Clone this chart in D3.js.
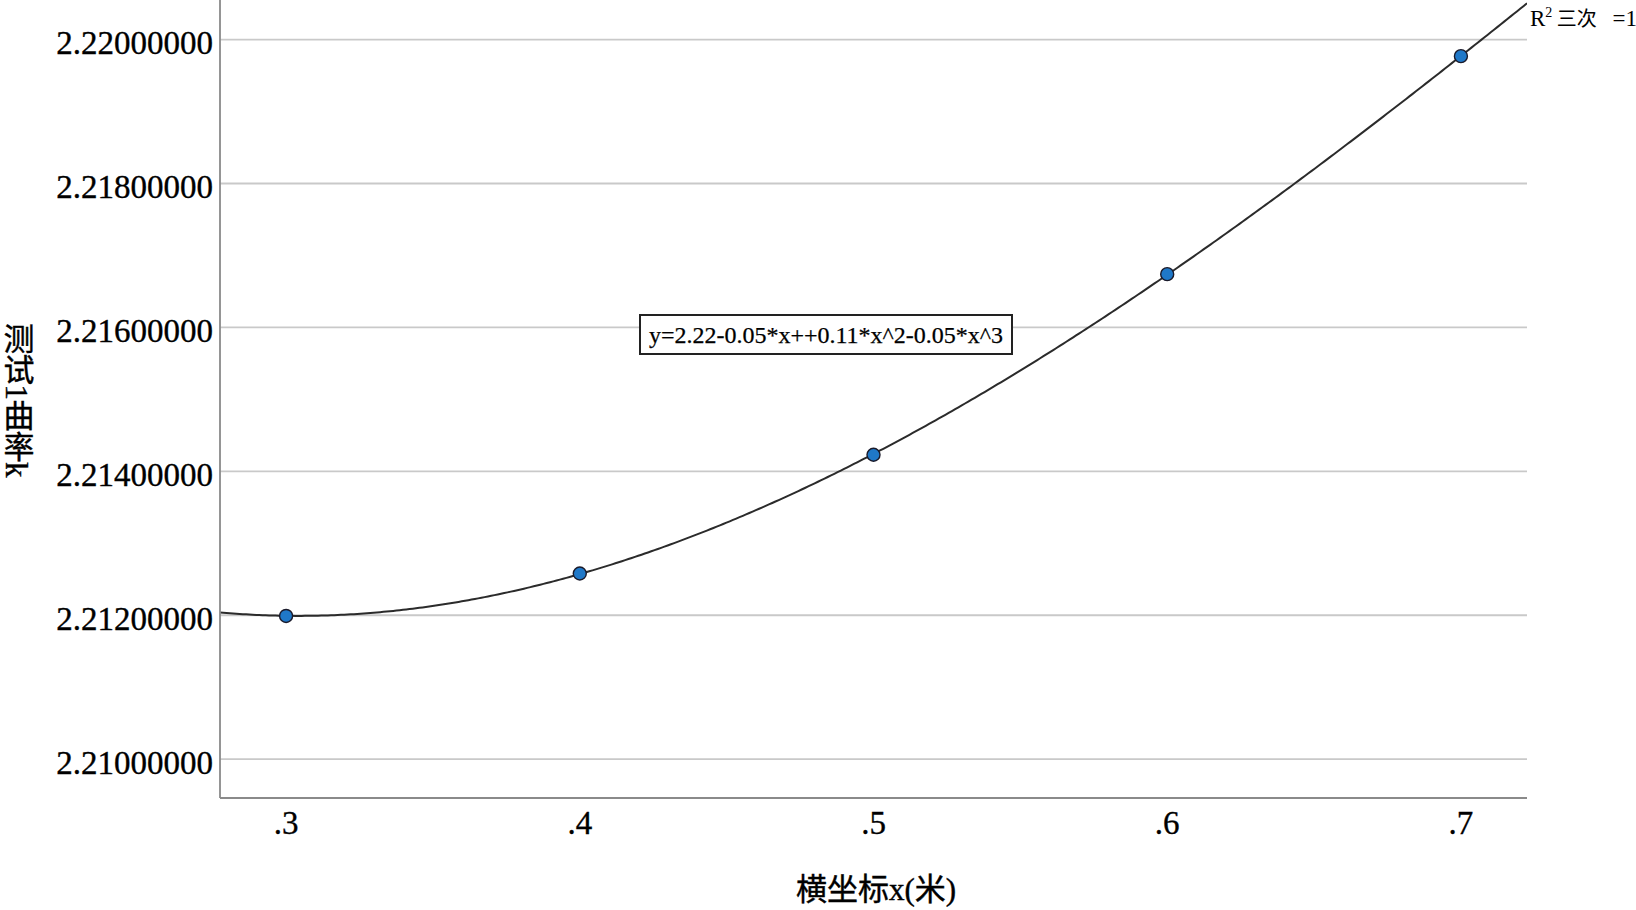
<!DOCTYPE html>
<html><head><meta charset="utf-8">
<script src="https://cdn.jsdelivr.net/npm/d3@7"></script>
<style>body{margin:0;background:#fff;} svg{display:block;}</style>
</head><body>
<svg id="chart" width="1636" height="910"></svg>
<script>
const xValues = [0.3, 0.4, 0.5, 0.6, 0.7];
const yValues = [2.21199, 2.21258, 2.21423, 2.21674, 2.21977];
const yTicks = [2.210, 2.212, 2.214, 2.216, 2.218, 2.220];
const xTicks = [0.3, 0.4, 0.5, 0.6, 0.7];
const xTitle = "横坐标x(米)";
const yTitle = "测试1曲率k";
const equationText = "y=2.22-0.05*x++0.11*x^2-0.05*x^3";

const serif = "'Liberation Serif','Times New Roman','Noto Sans CJK SC',serif";
const svg = d3.select("#chart");
const plotLeft = 220, plotRight = 1527, plotTop = 0, plotBottom = 798;
const x = d3.scaleLinear().domain([0.2775, 0.7225]).range([plotLeft, plotRight]);
const y = d3.scaleLinear().domain([2.20946, 2.22055]).range([plotBottom, plotTop]);

// gridlines
svg.append("g").selectAll("line").data(yTicks).join("line")
  .attr("x1", plotLeft).attr("x2", plotRight)
  .attr("y1", d => y(d)).attr("y2", d => y(d))
  .attr("stroke", "#c9c9c9").attr("stroke-width", 1.8);

// cubic least squares fit
function cubicFit(xs, ys) {
  const n = 4;
  const A = Array.from({length: n}, () => new Array(n).fill(0));
  const b = new Array(n).fill(0);
  xs.forEach((xv, i) => {
    const p = [1, xv, xv*xv, xv*xv*xv];
    for (let r = 0; r < n; r++) { b[r] += p[r]*ys[i]; for (let c = 0; c < n; c++) A[r][c] += p[r]*p[c]; }
  });
  for (let i = 0; i < n; i++) {
    let m = i; for (let k = i+1; k < n; k++) if (Math.abs(A[k][i]) > Math.abs(A[m][i])) m = k;
    [A[i], A[m]] = [A[m], A[i]]; [b[i], b[m]] = [b[m], b[i]];
    for (let k = i+1; k < n; k++) { const f = A[k][i]/A[i][i]; for (let c = i; c < n; c++) A[k][c] -= f*A[i][c]; b[k] -= f*b[i]; }
  }
  const c = new Array(n).fill(0);
  for (let i = n-1; i >= 0; i--) { let s = b[i]; for (let k = i+1; k < n; k++) s -= A[i][k]*c[k]; c[i] = s/A[i][i]; }
  return c;
}
const coef = cubicFit(xValues, yValues);
const fitFn = t => coef[0] + coef[1]*t + coef[2]*t*t + coef[3]*t*t*t;
const curve = d3.range(0, 401).map(i => { const t = 0.2775 + (0.7225-0.2775)*i/400; return [t, fitFn(t)]; });

svg.append("defs").append("clipPath").attr("id", "clip")
  .append("rect").attr("x", plotLeft).attr("y", plotTop).attr("width", plotRight-plotLeft).attr("height", plotBottom-plotTop);

svg.append("path").datum(curve)
  .attr("clip-path", "url(#clip)")
  .attr("fill", "none").attr("stroke", "#2b2b2b").attr("stroke-width", 2)
  .attr("d", d3.line().x(d => x(d[0])).y(d => y(d[1])));

// axes lines
svg.append("line").attr("x1", plotLeft).attr("x2", plotLeft).attr("y1", plotTop).attr("y2", plotBottom)
  .attr("stroke", "#8a8a8a").attr("stroke-width", 1.8);
svg.append("line").attr("x1", plotLeft).attr("x2", plotRight).attr("y1", plotBottom).attr("y2", plotBottom)
  .attr("stroke", "#8a8a8a").attr("stroke-width", 1.8);

// y tick labels
svg.append("g").selectAll("text").data(yTicks).join("text")
  .attr("x", plotLeft - 7).attr("y", d => y(d) + 7)
  .attr("text-anchor", "end").attr("dominant-baseline", "middle")
  .attr("font-family", serif).attr("font-size", 33).attr("fill", "#000")
  .attr("stroke", "#000").attr("stroke-width", 0.35)
  .text(d => d.toFixed(8));

// x tick labels
svg.append("g").selectAll("text").data(xTicks).join("text")
  .attr("x", d => x(d)).attr("y", 826)
  .attr("text-anchor", "middle").attr("dominant-baseline", "middle")
  .attr("font-family", serif).attr("font-size", 33).attr("fill", "#000")
  .attr("stroke", "#000").attr("stroke-width", 0.35)
  .text(d => d3.format(".1f")(d).replace(/^0/, ""));

// points
svg.append("g").selectAll("circle").data(xValues.map((v, i) => [v, yValues[i]])).join("circle")
  .attr("cx", d => x(d[0])).attr("cy", d => y(d[1])).attr("r", 6.5)
  .attr("fill", "#1f78c8").attr("stroke", "#1a1a2a").attr("stroke-width", 1.4);

// equation box
const eq = svg.append("g");
eq.append("rect").attr("x", 640).attr("y", 315).attr("width", 372).attr("height", 39)
  .attr("fill", "#fff").attr("stroke", "#222").attr("stroke-width", 2);
eq.append("text").attr("x", 826).attr("y", 337).attr("text-anchor", "middle")
  .attr("dominant-baseline", "middle").attr("font-family", serif).attr("font-size", 24).attr("fill", "#000")
  .attr("stroke", "#000").attr("stroke-width", 0.25)
  .text(equationText);

// R² label
const r2 = svg.append("text").attr("x", 1530).attr("y", 26)
  .attr("font-family", serif).attr("font-size", 23).attr("fill", "#000");
r2.append("tspan").text("R");
r2.append("tspan").attr("font-size", 14).attr("dy", -9).text("2");
r2.append("tspan").attr("dy", 9).attr("font-family", "'Noto Sans CJK SC',sans-serif").attr("font-size", 20).text(" 三次");
r2.append("tspan").attr("dx", 10).text(" =1");

// axis titles
svg.append("text").attr("x", 876).attr("y", 893)
  .attr("text-anchor", "middle").attr("dominant-baseline", "middle")
  .attr("font-family", serif).attr("font-size", 31).attr("fill", "#000")
  .attr("stroke", "#000").attr("stroke-width", 0.4)
  .text(xTitle);
svg.append("text").attr("x", 16).attr("y", 400)
  .attr("text-anchor", "middle")
  .style("writing-mode", "vertical-rl")
  .attr("font-family", serif).attr("font-size", 31).attr("fill", "#000")
  .attr("stroke", "#000").attr("stroke-width", 0.4)
  .text(yTitle);
</script>
</body></html>
